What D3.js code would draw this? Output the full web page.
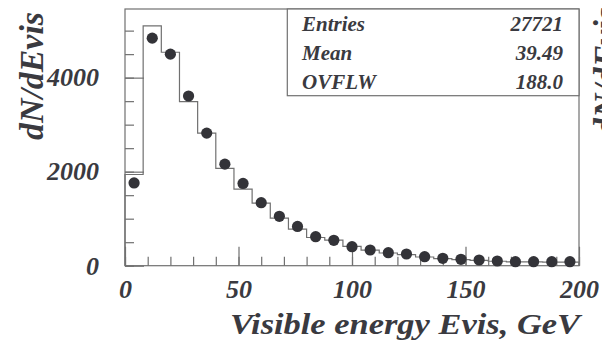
<!DOCTYPE html>
<html>
<head>
<meta charset="utf-8">
<script src="https://cdn.jsdelivr.net/npm/d3@7"></script>
<style>
  html, body { margin: 0; padding: 0; background: #fff; }
  svg { display: block; }
  text { font-family: "Liberation Serif", "Times New Roman", serif; font-weight: bold; font-style: italic; fill: #3a3a40; }
</style>
</head>
<body>
<svg id="chart" width="602" height="345"></svg>
<script>
// Visible energy distribution, 8 GeV bins from 0 to 200 GeV
const binEdges = d3.range(0, 201, 8);                 // 26 edges -> 25 bins
const mcCounts = [1940, 5100, 4540, 3490, 2820, 2070, 1630, 1330, 1010, 780,
                  600, 545, 410, 330, 270, 235, 185, 150, 128, 112,
                  95, 82, 80, 78, 76];                  // histogram (simulation)
const dataCounts = [1760, 4840, 4500, 3610, 2820, 2160, 1750, 1340, 1050, 835,
                    617, 540, 404, 334, 277, 249, 191, 157, 136, 121,
                    100, 85, 85, 85, 85];               // measured points
const xMajorTicks = [0, 50, 100, 150, 200];
const xMinorTicks = d3.range(0, 201, 10);
const yMajorTicks = [0, 2000, 4000];
const yMinorTicks = d3.range(0, 5460, 500);
const statLabels = ["Entries", "Mean", "OVFLW"];
const statValues = ["27721", "39.49", "188.0"];

const svg = d3.select("#chart");
const plotLeft = 125, plotRight = 579, plotTop = 9, plotBottom = 265.7;
const lineColor = "#707070";

const x = d3.scaleLinear().domain([0, 200]).range([plotLeft, plotRight]);
const y = d3.scaleLinear().domain([0, 5460]).range([plotBottom, plotTop]);

// frame
svg.append("rect")
  .attr("x", plotLeft).attr("y", plotTop)
  .attr("width", plotRight - plotLeft).attr("height", plotBottom - plotTop)
  .attr("fill", "none").attr("stroke", lineColor).attr("stroke-width", 1.2);

// axes with inward ticks
function styleAxis(g) {
  g.select(".domain").remove();
  g.selectAll(".tick line").attr("stroke", lineColor).attr("stroke-width", 1.2);
}
svg.append("g").attr("transform", `translate(0,${plotBottom})`)
  .call(d3.axisBottom(x).tickValues(xMinorTicks).tickSize(-9).tickFormat(""))
  .call(styleAxis);
const xAxis = svg.append("g").attr("transform", `translate(0,${plotBottom})`)
  .call(d3.axisBottom(x).tickValues(xMajorTicks).tickSize(-19).tickPadding(14).tickFormat(d3.format("d")))
  .call(styleAxis);
xAxis.attr("font-family", null).attr("font-size", null);
xAxis.selectAll(".tick text").style("font-size", "26px");

svg.append("g").attr("transform", `translate(${plotLeft},0)`)
  .call(d3.axisLeft(y).tickValues(yMinorTicks).tickSize(-9).tickFormat(""))
  .call(styleAxis);
const yAxis = svg.append("g").attr("transform", `translate(${plotLeft},0)`)
  .call(d3.axisLeft(y).tickValues(yMajorTicks).tickSize(-19).tickPadding(26).tickFormat(d3.format("d")))
  .call(styleAxis);
yAxis.attr("font-family", null).attr("font-size", null);
yAxis.selectAll(".tick text").style("font-size", "26px");

// histogram outline
const stepPoints = [[0, 0]].concat(mcCounts.map((v, i) => [binEdges[i], v]),
                                   [[200, mcCounts[mcCounts.length - 1]], [200, 0]]);
const stepLine = d3.line()
  .x(d => x(d[0])).y(d => y(d[1]))
  .curve(d3.curveStepAfter);
svg.append("path")
  .attr("d", stepLine(stepPoints))
  .attr("fill", "none").attr("stroke", lineColor).attr("stroke-width", 1.2);

// measured points at bin centres
svg.append("g").selectAll("circle")
  .data(dataCounts)
  .join("circle")
  .attr("cx", (d, i) => x((binEdges[i] + binEdges[i + 1]) / 2))
  .attr("cy", d => y(d))
  .attr("r", 5.6)
  .attr("fill", "#333338");

// statistics box
svg.append("rect")
  .attr("x", 287.3).attr("y", plotTop)
  .attr("width", plotRight - 287.3).attr("height", 95.7 - plotTop)
  .attr("fill", "#fff").attr("stroke", lineColor).attr("stroke-width", 1.2);
const rowY = [30.7, 60, 88.5];
svg.append("g").selectAll("text.lbl")
  .data(statLabels).join("text")
  .attr("class", "lbl")
  .attr("x", 302).attr("y", (d, i) => rowY[i])
  .style("font-size", "21px")
  .text(d => d);
svg.append("g").selectAll("text.val")
  .data(statValues).join("text")
  .attr("class", "val")
  .attr("x", 563).attr("y", (d, i) => rowY[i])
  .attr("text-anchor", "end")
  .style("font-size", "21px")
  .text(d => d);

// axis titles
svg.append("text")
  .attr("x", 230).attr("y", 334)
  .attr("textLength", 350).attr("lengthAdjust", "spacingAndGlyphs")
  .style("font-size", "30px")
  .text("Visible energy Evis, GeV");

svg.append("text")
  .attr("transform", "translate(43,140) rotate(-90)")
  .attr("textLength", 128).attr("lengthAdjust", "spacingAndGlyphs")
  .style("font-size", "34px")
  .text("dN/dEvis");

// neighbouring panel's axis title, cut by the right edge
svg.append("text")
  .attr("transform", "translate(617,135) rotate(-90)")
  .attr("textLength", 128).attr("lengthAdjust", "spacingAndGlyphs")
  .style("font-size", "34px")
  .text("dN/dEvis");
</script>
</body>
</html>
